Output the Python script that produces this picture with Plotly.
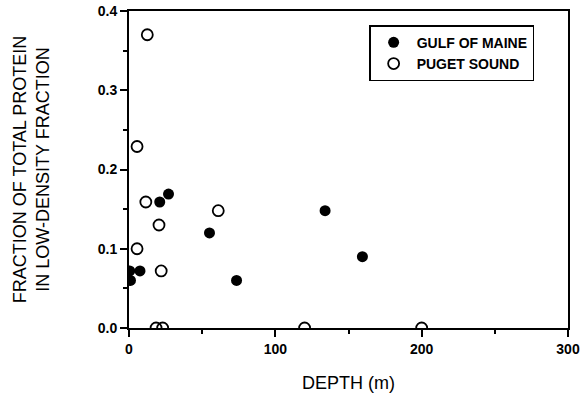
import plotly.graph_objects as go

# Gulf of Maine (filled circles)
gulf_depth = [1, 0.5, 7.5, 21, 27, 55, 73.5, 134, 159.5]
gulf_frac = [0.060, 0.072, 0.072, 0.159, 0.169, 0.120, 0.060, 0.148, 0.090]

# Puget Sound (open circles)
puget_depth = [12.5, 5.5, 11.5, 20.5, 5.5, 22, 18.5, 23, 61, 120, 200]
puget_frac = [0.370, 0.229, 0.159, 0.130, 0.100, 0.072, 0.0, 0.0, 0.148, 0.0, 0.0]

x_ticks = [0, 100, 200, 300]
y_ticks = [0.0, 0.1, 0.2, 0.3, 0.4]

FONT = "Liberation Sans, Arial, Helvetica, sans-serif"

fig = go.Figure()
fig.add_trace(go.Scatter(
    x=gulf_depth, y=gulf_frac, mode="markers", name="GULF OF MAINE",
    marker=dict(symbol="circle", size=11, color="black"),
    cliponaxis=True,
))
fig.add_trace(go.Scatter(
    x=puget_depth, y=puget_frac, mode="markers", name="PUGET SOUND",
    marker=dict(symbol="circle-open", size=11, color="black", line=dict(width=1.8, color="black")),
    cliponaxis=True,
))

axis_common = dict(
    showgrid=False, zeroline=False, showline=True, linecolor="black", linewidth=2,
    mirror=True, ticks="outside", ticklen=7, tickwidth=2, tickcolor="black",
    tickfont=dict(family=FONT, size=14, color="black", weight="bold"),
    automargin=False,
)

fig.update_xaxes(
    range=[0, 300], tickvals=x_ticks, ticktext=[str(v) for v in x_ticks],
    minor=dict(dtick=50, ticks="outside", ticklen=4, tickwidth=1.5, tickcolor="black"),
    title=dict(text="DEPTH (m)", font=dict(family=FONT, size=18, color="black"), standoff=21),
    **axis_common,
)
fig.update_yaxes(
    range=[0, 0.4], tickvals=y_ticks, ticktext=[f"{v:.1f}" for v in y_ticks],
    minor=dict(dtick=0.05, ticks="outside", ticklen=4, tickwidth=1.5, tickcolor="black"),
    title=dict(text="FRACTION OF TOTAL PROTEIN<br>IN LOW-DENSITY FRACTION",
               font=dict(family=FONT, size=18, color="black"), standoff=43),
    **axis_common,
)

fig.update_layout(
    width=587, height=398,
    margin=dict(l=129, r=19, t=11, b=70),
    paper_bgcolor="white", plot_bgcolor="white",
    showlegend=True,
    legend=dict(
        x=0.547, y=0.955, xanchor="left", yanchor="top",
        bgcolor="white", bordercolor="black", borderwidth=1.5,
        font=dict(family=FONT, size=14, color="black", weight="bold"),
        tracegroupgap=0, itemwidth=36,
    ),
)

fig.write_html("out.html")
